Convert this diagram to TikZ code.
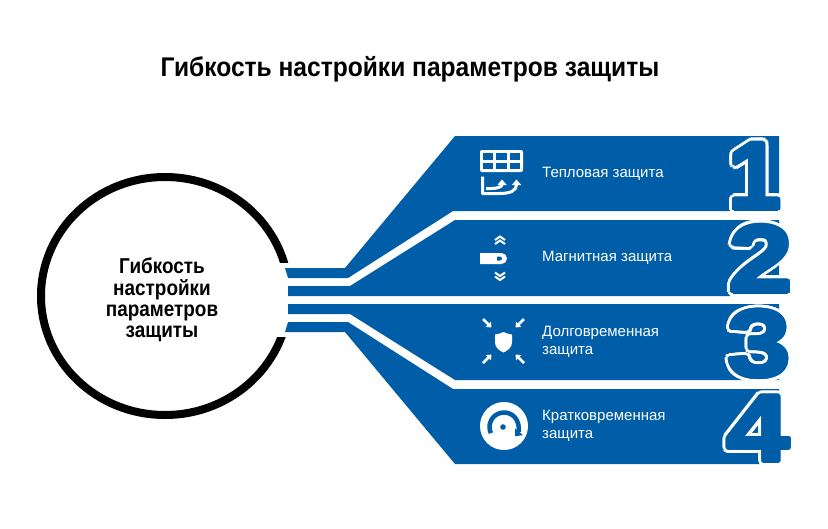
\documentclass[tikz,border=0pt]{standalone}
\usepackage{fontspec}
\usepackage{graphicx}
\setmainfont{Liberation Sans}
\usetikzlibrary{arrows.meta}
\definecolor{bandblue}{HTML}{005EA8}
\tikzset{
  band/.style={fill=bandblue, draw=none},
  itemtext/.style={text=white, font=\fontsize{15}{18}\selectfont, anchor=west, align=left, inner sep=0pt},
  titletext/.style={font=\bfseries\fontsize{27}{30}\selectfont, anchor=base, inner sep=0pt},
  hubtext/.style={font=\bfseries\fontsize{21.5}{24}\selectfont, anchor=base, inner sep=0pt},
  digitbase/.style={font=\bfseries\fontsize{95}{95}\selectfont, anchor=base east, inner sep=0pt, outer sep=0pt},
  digitw/.style={digitbase, text=white},
  digitb/.style={digitbase, text=bandblue},
  iconline/.style={draw=white, line width=2.5pt},
  iconthin/.style={draw=white, line width=2pt},
  icontip/.style={-{Triangle[width=7pt,length=4.5pt]}},
  bigtip/.style={-{Triangle[width=9pt,length=5.5pt]}},
}
\newcommand\bignum[3]{%
  \foreach \a in {0,15,...,345}{\node[digitw] (#1w\a) at ([shift={(\a:5.2pt)}]#1) {\scalebox{#3}[1]{#2}};}%
  \foreach \a in {0,30,...,330}{\node[digitb] (#1b\a) at ([shift={(\a:2.2pt)}]#1) {\scalebox{#3}[1]{#2}};}%
  \node[digitb] (#1n) at (#1) {\scalebox{#3}[1]{#2}};%
}
\begin{document}
\begin{tikzpicture}[x=1pt,y=-1pt]
\path[fill=white, use as bounding box] (0,0) rectangle (828,528);

% title
\node[titletext] (title) at (410,76) {\scalebox{0.91}[1]{Гибкость настройки параметров защиты}};

% hub ring
\draw[line width=8pt] (165,296) ellipse [x radius=124pt, y radius=119pt];
\fill[white] (270,263) rectangle (300,337);
\node[hubtext] (hub1) at (162,273.3) {\scalebox{0.88}[1]{Гибкость}};
\node[hubtext] (hub2) at (162,295) {\scalebox{0.88}[1]{настройки}};
\node[hubtext] (hub3) at (162,316.5) {\scalebox{0.88}[1]{параметров}};
\node[hubtext] (hub4) at (162,337.7) {\scalebox{0.88}[1]{защиты}};

% bands
\fill[band] (455,136) -- (779,136) -- (779,211) -- (453,211) -- (348,278) -- (288,278) -- (285,268) -- (345,268) -- cycle;
\fill[band] (455,220) -- (779,220) -- (779,296) -- (288,296) -- (288,286) -- (350,286) -- cycle;
\fill[band] (288,304) -- (779,304) -- (779,380) -- (455,380) -- (350,314) -- (288,314) -- cycle;
\fill[band] (453,389) -- (779,389) -- (779,464) -- (455,464) -- (345,332) -- (285,332) -- (288,322) -- (348,322) -- cycle;

% texts
\node[itemtext] (t1) at (542,173.5) {Тепловая защита};
\node[itemtext] (t2) at (542,258) {Магнитная защита};
\node[itemtext] (t3) at (542,342) {Долговременная\\защита};
\node[itemtext] (t4) at (542,426) {Кратковременная\\защита};

% icon 1: thermal
\fill[white, rounded corners=2pt] (480,150) rectangle (523,172);
\foreach \cx in {483,496.3,509.7}{
  \foreach \cy in {153,162.5}{
    \fill[bandblue] (\cx,\cy) rectangle ++(10.3,6.5);
  }
}
\draw[iconline, line width=3pt, bigtip, line join=round] (482.5,176.5) -- (482.5,193.5) -- (499,193.5) .. controls (510,193.5) and (516.5,191) .. (516.5,179.5);
\draw[iconline, line width=3pt, bigtip] (486,188.5) -- (491,188.5) .. controls (497,188.5) and (502,187) .. (502,179.5);

% icon 2: magnetic
\draw[iconthin] (495,240) -- (500,236.5) -- (505,240);
\draw[iconthin] (495,244) -- (500,240.5) -- (505,244);
\fill[white] (480,253) -- (501.5,253) arc[start angle=90, end angle=-90, radius=5.5pt] -- (480,264) -- cycle;
\fill[bandblue] (497,256.5) -- (500,256.5) arc[start angle=90, end angle=-90, radius=2pt] -- (497,260.5) -- cycle;
\draw[iconthin] (495,272.5) -- (500,276) -- (505,272.5);
\draw[iconthin] (495,276.5) -- (500,280) -- (505,276.5);

% icon 3: long-term
\fill[white] (495,334.5) .. controls (499,334) and (501,333) .. (503.5,332) .. controls (506,333) and (508,334) .. (512,334.5) -- (512,342) .. controls (512,347.5) and (508,350.5) .. (503.5,352.5) .. controls (499,350.5) and (495,347.5) .. (495,342) -- cycle;
\draw[iconline, icontip] (483,319) -- (491.5,327.5);
\draw[iconline, icontip] (524,319) -- (515.5,327.5);
\draw[iconline, icontip] (483,363) -- (491.5,354.5);
\draw[iconline, icontip] (524,363) -- (515.5,354.5);

% icon 4: short-term
\fill[white] (504,426) circle[radius=24pt];
\draw[bandblue, line width=4.5pt, -{Triangle[width=10pt,length=6pt]}] (504,427) ++(205:14.5pt) arc[start angle=205, end angle=-40, radius=14.5pt];
\fill[bandblue] (503,427) circle[radius=2.8pt];

% big digits
\coordinate (d1) at (781.5,209);
\coordinate (d2) at (792.5,292);
\coordinate (d3) at (791,376.5);
\coordinate (d4) at (790,461.5);
\bignum{d1}{1}{1.0}
\bignum{d2}{2}{1.2}
\bignum{d3}{3}{1.2}
\bignum{d4}{4}{1.2}
\end{tikzpicture}
\end{document}
